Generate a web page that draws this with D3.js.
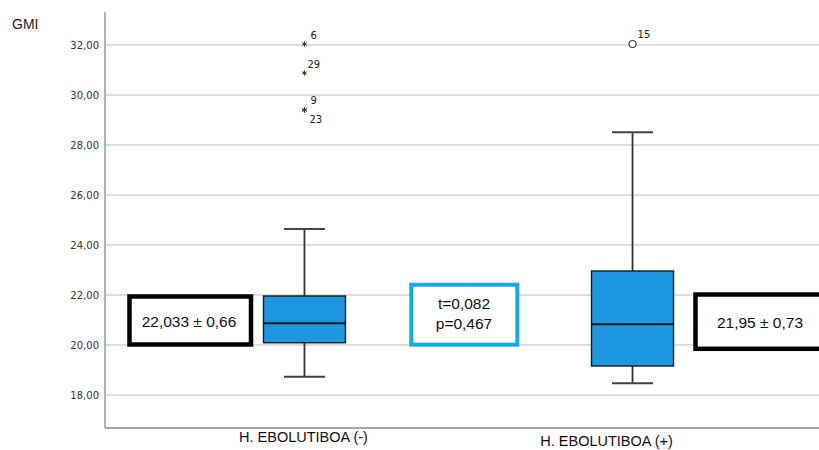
<!DOCTYPE html>
<html>
<head>
<meta charset="utf-8">
<script src="https://cdn.jsdelivr.net/npm/d3@7"></script>
<style>
  html, body { margin: 0; padding: 0; background: #fff; }
  svg { display: block; }
</style>
</head>
<body>
<svg id="chart" width="819" height="450"></svg>
<script>
// GMI by H. EBOLUTIBOA group — box plot summary
const groups = ["H. EBOLUTIBOA (-)", "H. EBOLUTIBOA (+)"];
const q1 = [20.09, 19.16];
const median = [20.87, 20.83];
const q3 = [21.96, 22.96];
const whiskerLow = [18.73, 18.47];
const whiskerHigh = [24.64, 28.51];

// extreme values (stars) and outliers (circles), with case numbers
const outlierGroup = [0, 0, 0, 0, 1];
const outlierValue = [32.04, 30.88, 29.40, 29.40, 32.04];
const outlierCase = ["6", "29", "9", "23", "15"];
const outlierKind = ["extreme", "extreme", "extreme", "extreme", "outlier"];

const yTicks = [18, 20, 22, 24, 26, 28, 30, 32];

const summaryText = ["22,033 ± 0,66", "21,95 ± 0,73"];
const testText = ["t=0,082", "p=0,467"];

const svg = d3.select("#chart");
const plotLeft = 105, plotBottom = 428, plotTop = 12, plotRight = 819;

const y = d3.scaleLinear().domain([16.68, 33.32]).range([plotBottom, plotTop]);
const x = d3.scalePoint().domain(groups).range([plotLeft, 832]).padding(0.608);

const fmt = v => d3.format(".2f")(v).replace(".", ",");

// gridlines
svg.append("g")
  .selectAll("line")
  .data(yTicks)
  .join("line")
  .attr("x1", plotLeft).attr("x2", plotRight)
  .attr("y1", d => y(d)).attr("y2", d => y(d))
  .attr("stroke", "#d2d2d2").attr("stroke-width", 1.3);

// y axis labels
const yAxis = d3.axisLeft(y).tickValues(yTicks).tickFormat(fmt).tickSize(0).tickPadding(6);
const yg = svg.append("g").attr("transform", `translate(${plotLeft},0)`).call(yAxis);
yg.select(".domain").remove();
yg.selectAll("text")
  .attr("font-family", "DejaVu Sans, sans-serif")
  .attr("font-size", 10)
  .attr("fill", "#333");

// axis frame lines
svg.append("line").attr("x1", plotLeft).attr("x2", plotLeft).attr("y1", plotTop).attr("y2", plotBottom)
  .attr("stroke", "#8a8a8a").attr("stroke-width", 1.3);
svg.append("line").attr("x1", plotLeft).attr("x2", plotRight).attr("y1", plotBottom).attr("y2", plotBottom)
  .attr("stroke", "#8a8a8a").attr("stroke-width", 1.3);

// axis title
svg.append("text").attr("x", 12).attr("y", 29)
  .attr("font-family", "Liberation Sans, Arial, sans-serif")
  .attr("font-size", 14).attr("fill", "#222").text("GMI");

// category labels
const xAxis = d3.axisBottom(x).tickSize(0).tickPadding(0);
const xg = svg.append("g").attr("transform", `translate(0,${plotBottom})`).call(xAxis);
xg.select(".domain").remove();
xg.selectAll("text")
  .attr("font-family", "Liberation Sans, Arial, sans-serif")
  .attr("font-size", 14.5)
  .attr("fill", "#111")
  .attr("dy", null)
  .attr("y", (d, i) => i === 0 ? 14 : 18)
  .attr("x", (d, i) => i === 0 ? -1.5 : -26.5);

// boxes
const boxW = 82, capW = 41;
const boxes = svg.append("g").selectAll("g")
  .data(groups)
  .join("g")
  .attr("transform", d => `translate(${x(d)},0)`);

boxes.append("line")
  .attr("x1", 0).attr("x2", 0)
  .attr("y1", (d, i) => y(whiskerLow[i])).attr("y2", (d, i) => y(q1[i]))
  .attr("stroke", "#333").attr("stroke-width", 1.8);
boxes.append("line")
  .attr("x1", 0).attr("x2", 0)
  .attr("y1", (d, i) => y(q3[i])).attr("y2", (d, i) => y(whiskerHigh[i]))
  .attr("stroke", "#333").attr("stroke-width", 1.8);
boxes.append("line")
  .attr("x1", -capW / 2).attr("x2", capW / 2)
  .attr("y1", (d, i) => y(whiskerLow[i])).attr("y2", (d, i) => y(whiskerLow[i]))
  .attr("stroke", "#444").attr("stroke-width", 2);
boxes.append("line")
  .attr("x1", -capW / 2).attr("x2", capW / 2)
  .attr("y1", (d, i) => y(whiskerHigh[i])).attr("y2", (d, i) => y(whiskerHigh[i]))
  .attr("stroke", "#444").attr("stroke-width", 2);
boxes.append("rect")
  .attr("x", -boxW / 2).attr("width", boxW)
  .attr("y", (d, i) => y(q3[i]))
  .attr("height", (d, i) => y(q1[i]) - y(q3[i]))
  .attr("fill", "#1e97e2").attr("stroke", "#1a1a1a").attr("stroke-width", 1.4);
boxes.append("line")
  .attr("x1", -boxW / 2).attr("x2", boxW / 2)
  .attr("y1", (d, i) => y(median[i])).attr("y2", (d, i) => y(median[i]))
  .attr("stroke", "#1a1a1a").attr("stroke-width", 2);

// outliers
const outIdx = d3.range(outlierValue.length);
const star = d3.symbol().type(d3.symbolAsterisk).size(20);
svg.append("g").selectAll("path")
  .data(outIdx.filter(i => outlierKind[i] === "extreme"))
  .join("path")
  .attr("d", star)
  .attr("transform", i => `translate(${x(groups[outlierGroup[i]])},${y(outlierValue[i])})`)
  .attr("stroke", "#333").attr("stroke-width", 1).attr("fill", "none");
svg.append("g").selectAll("circle")
  .data(outIdx.filter(i => outlierKind[i] === "outlier"))
  .join("circle")
  .attr("cx", i => x(groups[outlierGroup[i]]))
  .attr("cy", i => y(outlierValue[i]))
  .attr("r", 3.5)
  .attr("fill", "#fff").attr("stroke", "#444").attr("stroke-width", 1.2);

// case labels beside each point
const labelOffset = { "6": [6, -5], "29": [3, -5], "9": [6, -6], "23": [5, 13], "15": [5, -6] };
svg.append("g").selectAll("text")
  .data(outIdx)
  .join("text")
  .attr("x", i => x(groups[outlierGroup[i]]) + labelOffset[outlierCase[i]][0])
  .attr("y", i => y(outlierValue[i]) + labelOffset[outlierCase[i]][1])
  .attr("font-family", "DejaVu Sans, sans-serif")
  .attr("font-size", 10)
  .attr("fill", "#222")
  .text(i => outlierCase[i]);

// annotation boxes
const annotFont = "Liberation Sans, Arial, sans-serif";
function annotBox(x0, y0, w, h, color, sw, lines, cx, cy, lh) {
  svg.append("rect")
    .attr("x", x0).attr("y", y0).attr("width", w).attr("height", h)
    .attr("fill", "#fff").attr("stroke", color).attr("stroke-width", sw);
  lines.forEach((t, k) => {
    svg.append("text")
      .attr("x", cx).attr("y", cy + (k - (lines.length - 1) / 2) * lh)
      .attr("dy", "0.35em")
      .attr("text-anchor", "middle")
      .attr("font-family", annotFont)
      .attr("font-size", 15.5)
      .attr("fill", "#111")
      .text(t);
  });
}
annotBox(129.5, 296.5, 121.5, 48, "#000", 4.5, [summaryText[0]], 189, 321.5, 0);
annotBox(411.3, 284.7, 106, 60, "#17a8e6", 4, testText, 464, 313.3, 20);
annotBox(695.5, 294.5, 140, 54.3, "#000", 4.5, [summaryText[1]], 760, 322.5, 0);
</script>
</body>
</html>
